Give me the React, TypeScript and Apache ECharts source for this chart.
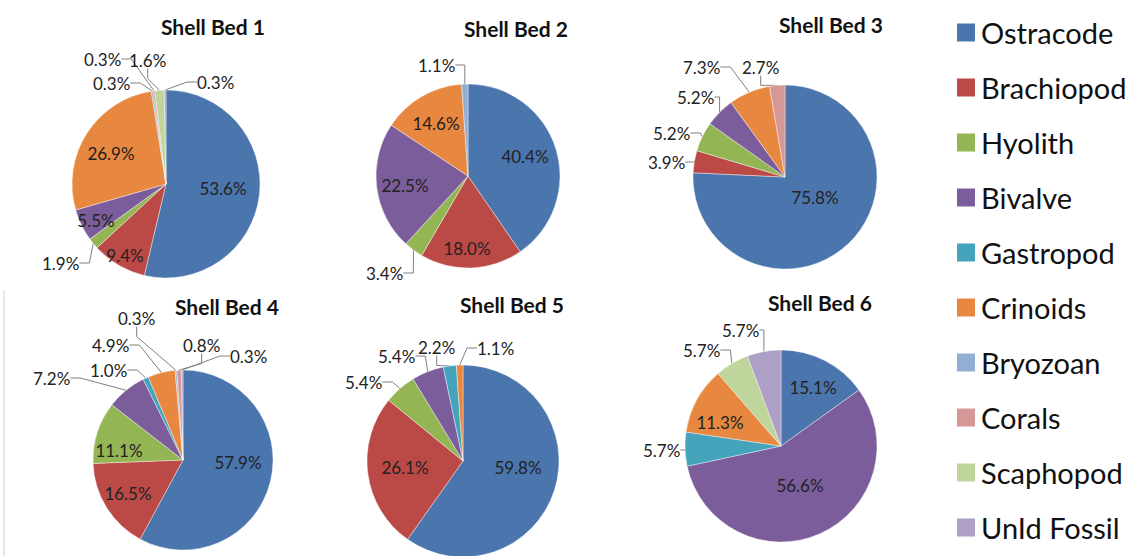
import React, { useEffect, useRef } from "react";
import * as echarts from "echarts";

// Fossil categories, in clockwise order from 12 o'clock
const categories = [
  "Ostracode",
  "Brachiopod",
  "Hyolith",
  "Bivalve",
  "Gastropod",
  "Crinoids",
  "Bryozoan",
  "Corals",
  "Scaphopod",
  "UnId Fossil",
];

const colors = [
  "#4a76ad",
  "#bb4a47",
  "#93b553",
  "#7b5d9c",
  "#45a3bc",
  "#e8873f",
  "#93aed4",
  "#d69896",
  "#c0d59c",
  "#ad9fc6",
];

// Percentage of each category per shell bed (0 = absent)
const bedTitles = ["Shell Bed 1", "Shell Bed 2", "Shell Bed 3", "Shell Bed 4", "Shell Bed 5", "Shell Bed 6"];
const bed1 = [53.6, 9.4, 1.9, 5.5, 0, 26.9, 0.3, 0.3, 1.6, 0.3];
const bed2 = [40.4, 18.0, 3.4, 22.5, 0, 14.6, 1.1, 0, 0, 0];
const bed3 = [75.8, 3.9, 5.2, 5.2, 0, 7.3, 0, 2.7, 0, 0];
const bed4 = [57.9, 16.5, 11.1, 7.2, 1.0, 4.9, 0.3, 0.8, 0, 0.3];
const bed5 = [59.8, 26.1, 5.4, 5.4, 2.2, 1.1, 0, 0, 0, 0];
const bed6 = [15.1, 0, 0, 56.6, 5.7, 11.3, 0, 0, 5.7, 5.7];
const beds = [bed1, bed2, bed3, bed4, bed5, bed6];

// Pie placement: center x, center y, radius, title center x, title top
const pieLayout = [
  { cx: 166, cy: 184, r: 94, tx: 213, ty: 16 },
  { cx: 468, cy: 176, r: 92, tx: 516, ty: 18 },
  { cx: 785, cy: 177, r: 92, tx: 831, ty: 14 },
  { cx: 183, cy: 460, r: 90, tx: 227, ty: 296 },
  { cx: 463, cy: 461, r: 96, tx: 512, ty: 294 },
  { cx: 781, cy: 446, r: 96, tx: 820, ty: 292 },
];

// Labels drawn on the slice itself: label center x, y
const insideLabelSpots: Record<string, [number, number]>[] = [
  { Ostracode: [223, 188], Crinoids: [111, 153], Brachiopod: [125, 255], Bivalve: [96, 220] },
  { Ostracode: [525, 156], Bivalve: [405, 185], Crinoids: [436, 123], Brachiopod: [467, 248] },
  { Ostracode: [815, 197] },
  { Ostracode: [238, 462], Hyolith: [119, 450], Brachiopod: [128, 493] },
  { Ostracode: [518, 467], Brachiopod: [405, 467] },
  { Ostracode: [813, 387], Crinoids: [720, 422], Bivalve: [800, 485] },
];

// Labels outside the pie with a leader line: left edge x, middle y
const outsideLabelSpots: Record<string, [number, number]>[] = [
  {
    Hyolith: [42, 263],
    Bryozoan: [93, 83],
    Corals: [84, 59],
    Scaphopod: [129, 60],
    "UnId Fossil": [197, 82],
  },
  { Hyolith: [366, 273], Bryozoan: [418, 65] },
  {
    Brachiopod: [648, 162],
    Hyolith: [653, 133],
    Bivalve: [677, 97],
    Crinoids: [683, 67],
    Corals: [742, 67],
  },
  {
    Bivalve: [33, 378],
    Gastropod: [90, 370],
    Crinoids: [92, 345],
    Bryozoan: [118, 318],
    Corals: [183, 345],
    "UnId Fossil": [230, 356],
  },
  {
    Hyolith: [345, 382],
    Bivalve: [378, 356],
    Gastropod: [418, 347],
    Crinoids: [477, 348],
  },
  { Gastropod: [643, 450], Scaphopod: [683, 350], "UnId Fossil": [722, 330] },
];

const FONT = "Lato, 'Open Sans', sans-serif";

export default function App() {
  const ref = useRef<HTMLDivElement>(null);

  useEffect(() => {
    document.body.style.margin = "0";
    if (!ref.current) return;
    const chart = echarts.init(ref.current, null, { renderer: "svg" });

    const series = beds.map((vals, b) => {
      const L = pieLayout[b];
      const data = vals
        .map((v, i) => ({ v, i }))
        .filter((d) => d.v > 0)
        .map(({ v, i }) => {
          const inside = insideLabelSpots[b][categories[i]] !== undefined;
          return {
            name: categories[i],
            value: v,
            itemStyle: { color: colors[i] },
            label: { position: inside ? ("inside" as const) : ("outside" as const) },
            labelLine: { show: !inside },
          };
        });
      return {
        type: "pie",
        name: bedTitles[b],
        center: [L.cx, L.cy],
        radius: [0, L.r],
        startAngle: 90,
        clockwise: true,
        avoidLabelOverlap: false,
        itemStyle: { borderColor: "#ffffff", borderWidth: 0.4 },
        label: {
          formatter: (p: any) => p.value.toFixed(1) + "%",
          fontFamily: FONT,
          fontSize: 17,
          color: "#222222",
        },
        labelLine: {
          length: 8,
          length2: 10,
          lineStyle: { color: "#808080", width: 1 },
        },
        labelLayout: (p: any) => {
          const name = data[p.dataIndex]?.name;
          if (!name) return {};
          const inSpot = insideLabelSpots[b][name];
          if (inSpot) {
            return { x: inSpot[0], y: inSpot[1], align: "center", verticalAlign: "middle" };
          }
          const outSpot = outsideLabelSpots[b][name];
          if (outSpot) {
            return { x: outSpot[0], y: outSpot[1], align: "left", verticalAlign: "middle" };
          }
          return {};
        },
        emphasis: { disabled: true },
        data,
      };
    });

    chart.setOption({
      animation: false,
      backgroundColor: "#ffffff",
      title: bedTitles.map((t, b) => ({
        text: t,
        left: pieLayout[b].tx,
        top: pieLayout[b].ty,
        textAlign: "center",
        padding: 0,
        textStyle: {
          fontFamily: FONT,
          fontWeight: "bold",
          fontSize: 21,
          color: "#111111",
        },
      })),
      legend: {
        orient: "vertical",
        left: 955,
        top: 18,
        icon: "rect",
        itemWidth: 20,
        itemHeight: 20,
        itemGap: 26,
        padding: 0,
        selectedMode: false,
        data: categories,
        textStyle: {
          fontFamily: FONT,
          fontSize: 29,
          color: "#111111",
        },
      },
      graphic: [
        {
          type: "line",
          shape: { x1: 4, y1: 290, x2: 4, y2: 556 },
          style: { stroke: "#d0d0d0", lineWidth: 1 },
        },
      ],
      series,
    });

    return () => chart.dispose();
  }, []);

  return <div ref={ref} style={{ width: 1131, height: 556 }} />;
}
